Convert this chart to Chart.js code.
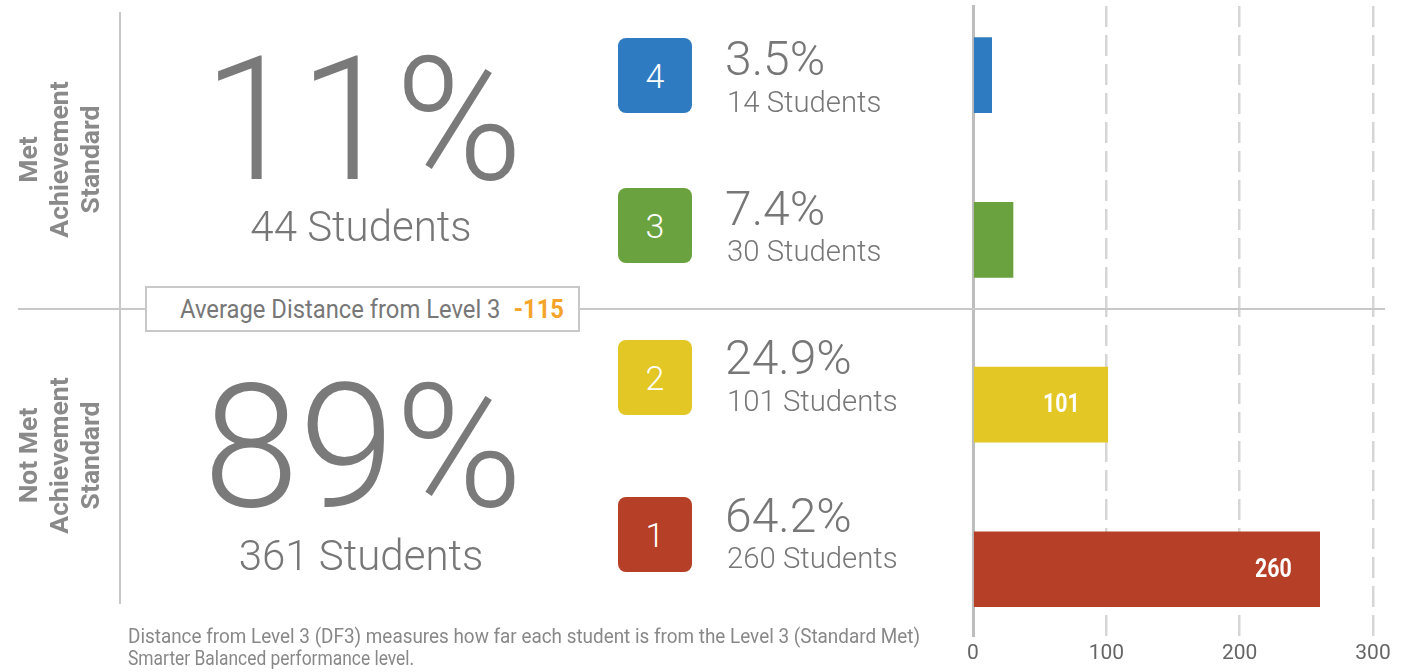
<!DOCTYPE html>
<html>
<head>
<meta charset="utf-8">
<script src="https://cdn.jsdelivr.net/npm/chart.js@4"></script>
<style>
  body { margin:0; background:#fff; font-family:Roboto, "Noto Sans", sans-serif; color:#777; }
  #wrap { position:relative; width:1408px; height:672px; overflow:hidden; }
  #c { position:absolute; left:0; top:0; }
  .t { position:absolute; line-height:1; white-space:nowrap; }
  .line { position:absolute; background:#c8c8c8; z-index:2; }
  .badge { position:absolute; width:74px; height:75px; border-radius:8px; color:#fff;
           font-weight:300; font-size:34px; display:flex; align-items:center; justify-content:center; }
  .side { position:absolute; width:320px; text-align:center; font-weight:700; font-size:26.5px;
          line-height:31px; color:#8a8a8a; transform:rotate(-90deg); }
  #avg { position:absolute; left:145px; top:286px; width:431px; height:42px; border:2px solid #c8c8c8;
         background:#fff; z-index:3; }
  .fit { transform-origin:0 0; }
</style>
</head>
<body>
<div id="wrap">
  <canvas id="c" width="1408" height="672"></canvas>
</div>
<script>
// chart values
const levels = [4, 3, 2, 1];
const students = [14, 30, 101, 260];
const percents = ["3.5%", "7.4%", "24.9%", "64.2%"];
const colors = ["#2f7bc2", "#6aa240", "#e2c725", "#b63f27"];
const groupNames = [["Met", "Achievement", "Standard"], ["Not Met", "Achievement", "Standard"]];
const groupPct = ["11%", "89%"];
const groupStudents = [44, 361];
const xTicks = [0, 100, 200, 300];
const avgDistance = -115;
const footnote = ["Distance from Level 3 (DF3) measures how far each student is from the Level 3 (Standard Met)",
                  "Smarter Balanced performance level."];

// layout (page pixels)
const badgeTop = [38, 188, 340, 497];
const pctBase = [75, 225, 374, 532];
const stuBase = [113, 262, 412, 569];
const groupBase = [[180, 241], [507, 570]];
const groupMid = [159, 455];

const wrap = document.getElementById("wrap");
function add(html){ wrap.insertAdjacentHTML("beforeend", html); return wrap.lastElementChild; }
// put a line-height:1 text so its baseline sits at y
function text(str, size, weight, base, left, extra){
  return add(`<div class="t" style="font-size:${size}px;font-weight:${weight};top:${base - 0.842*size}px;${left};${extra||""}">${str}</div>`);
}
function fitWidth(el, w){ const r = el.getBoundingClientRect().width; el.style.transform = `scaleX(${w/r})`; }

// separators
add(`<div class="line" style="left:119px;top:12px;width:2px;height:592px"></div>`);
add(`<div class="line" style="left:18px;top:308px;width:1367px;height:2px"></div>`);

// group labels
groupNames.forEach((g, i) => {
  add(`<div class="side" style="left:${58-160}px;top:${groupMid[i]-46}px">${g.join("<br>")}</div>`);
  text(groupPct[i], 173, 300, groupBase[i][0], "left:203px;width:300px;text-align:center", "color:#7a7a7a");
  text(groupStudents[i] + " Students", 42, 300, groupBase[i][1], "left:211px;width:300px;text-align:center");
});

// level badges and numbers
levels.forEach((l, i) => {
  add(`<div class="badge" style="left:618px;top:${badgeTop[i]}px;background:${colors[i]}">${l}</div>`);
  text(percents[i], 48, 300, pctBase[i], "left:725px");
  text(students[i] + " Students", 29.3, 300, stuBase[i], "left:727px");
});

// average distance box
add(`<div id="avg"></div>`);
const avgTxt = text(`Average Distance from Level 3 <b style="color:#f5a42a;margin-left:8px">${avgDistance}</b>`,
                    26, 400, 318, "left:180px;z-index:4", "color:#777");
avgTxt.classList.add("fit");

// footnote
footnote.forEach((s, i) => {
  const el = text(s, 20, 400, 643 + i*22, "left:128px", "color:#888");
  el.classList.add("fit");
  if (i === 0) fitWidth(el, 792); else el.style.transform = "scaleX(0.87)";
});
fitWidth(avgTxt, 384);

// white value labels inside long bars
const barLabels = {
  id: "barLabels",
  afterDatasetsDraw(chart){
    const ctx = chart.ctx;
    const meta = chart.getDatasetMeta(0);
    ctx.save();
    ctx.fillStyle = "#fff";
    ctx.font = "bold 26px Roboto";
    ctx.textAlign = "right";
    ctx.textBaseline = "middle";
    meta.data.forEach((bar, i) => {
      if (students[i] < 50) return;
      ctx.save();
      ctx.translate(bar.x - 28, bar.y + 1);
      ctx.scale(0.82, 1);
      ctx.fillText(String(students[i]), 0, 0);
      ctx.restore();
    });
    ctx.restore();
  }
};

new Chart(document.getElementById("c"), {
  type: "bar",
  data: {
    datasets: [{
      data: levels.map((l, i) => ({ x: students[i], y: l })),
      backgroundColor: colors,
      borderWidth: 0,
      barThickness: 75
    }]
  },
  options: {
    indexAxis: "y",
    responsive: false,
    animation: false,
    layout: { padding: { left: 965, right: 35, top: 6, bottom: 2 } },
    plugins: { legend: { display: false }, tooltip: { enabled: false } },
    scales: {
      x: {
        type: "linear", min: 0, max: 300,
        afterBuildTicks: s => { s.ticks = xTicks.map(v => ({ value: v })); },
        grid: { color: c => (c.tick && c.tick.value === 0) ? "rgba(0,0,0,0)" : "#d6d6d6", lineWidth: 2.5, drawTicks: false },
        border: { display: false, dash: [21, 8] },
        ticks: { color: "#666", font: { family: "Roboto", size: 21 }, padding: 4 }
      },
      y: {
        type: "linear", min: 0.59, max: 4.42, offset: false,
        grid: { display: false, offset: false },
        ticks: { display: false },
        border: { display: true, color: "#bdbdbd", width: 3 }
      }
    }
  },
  plugins: [barLabels]
});
</script>
</body>
</html>
